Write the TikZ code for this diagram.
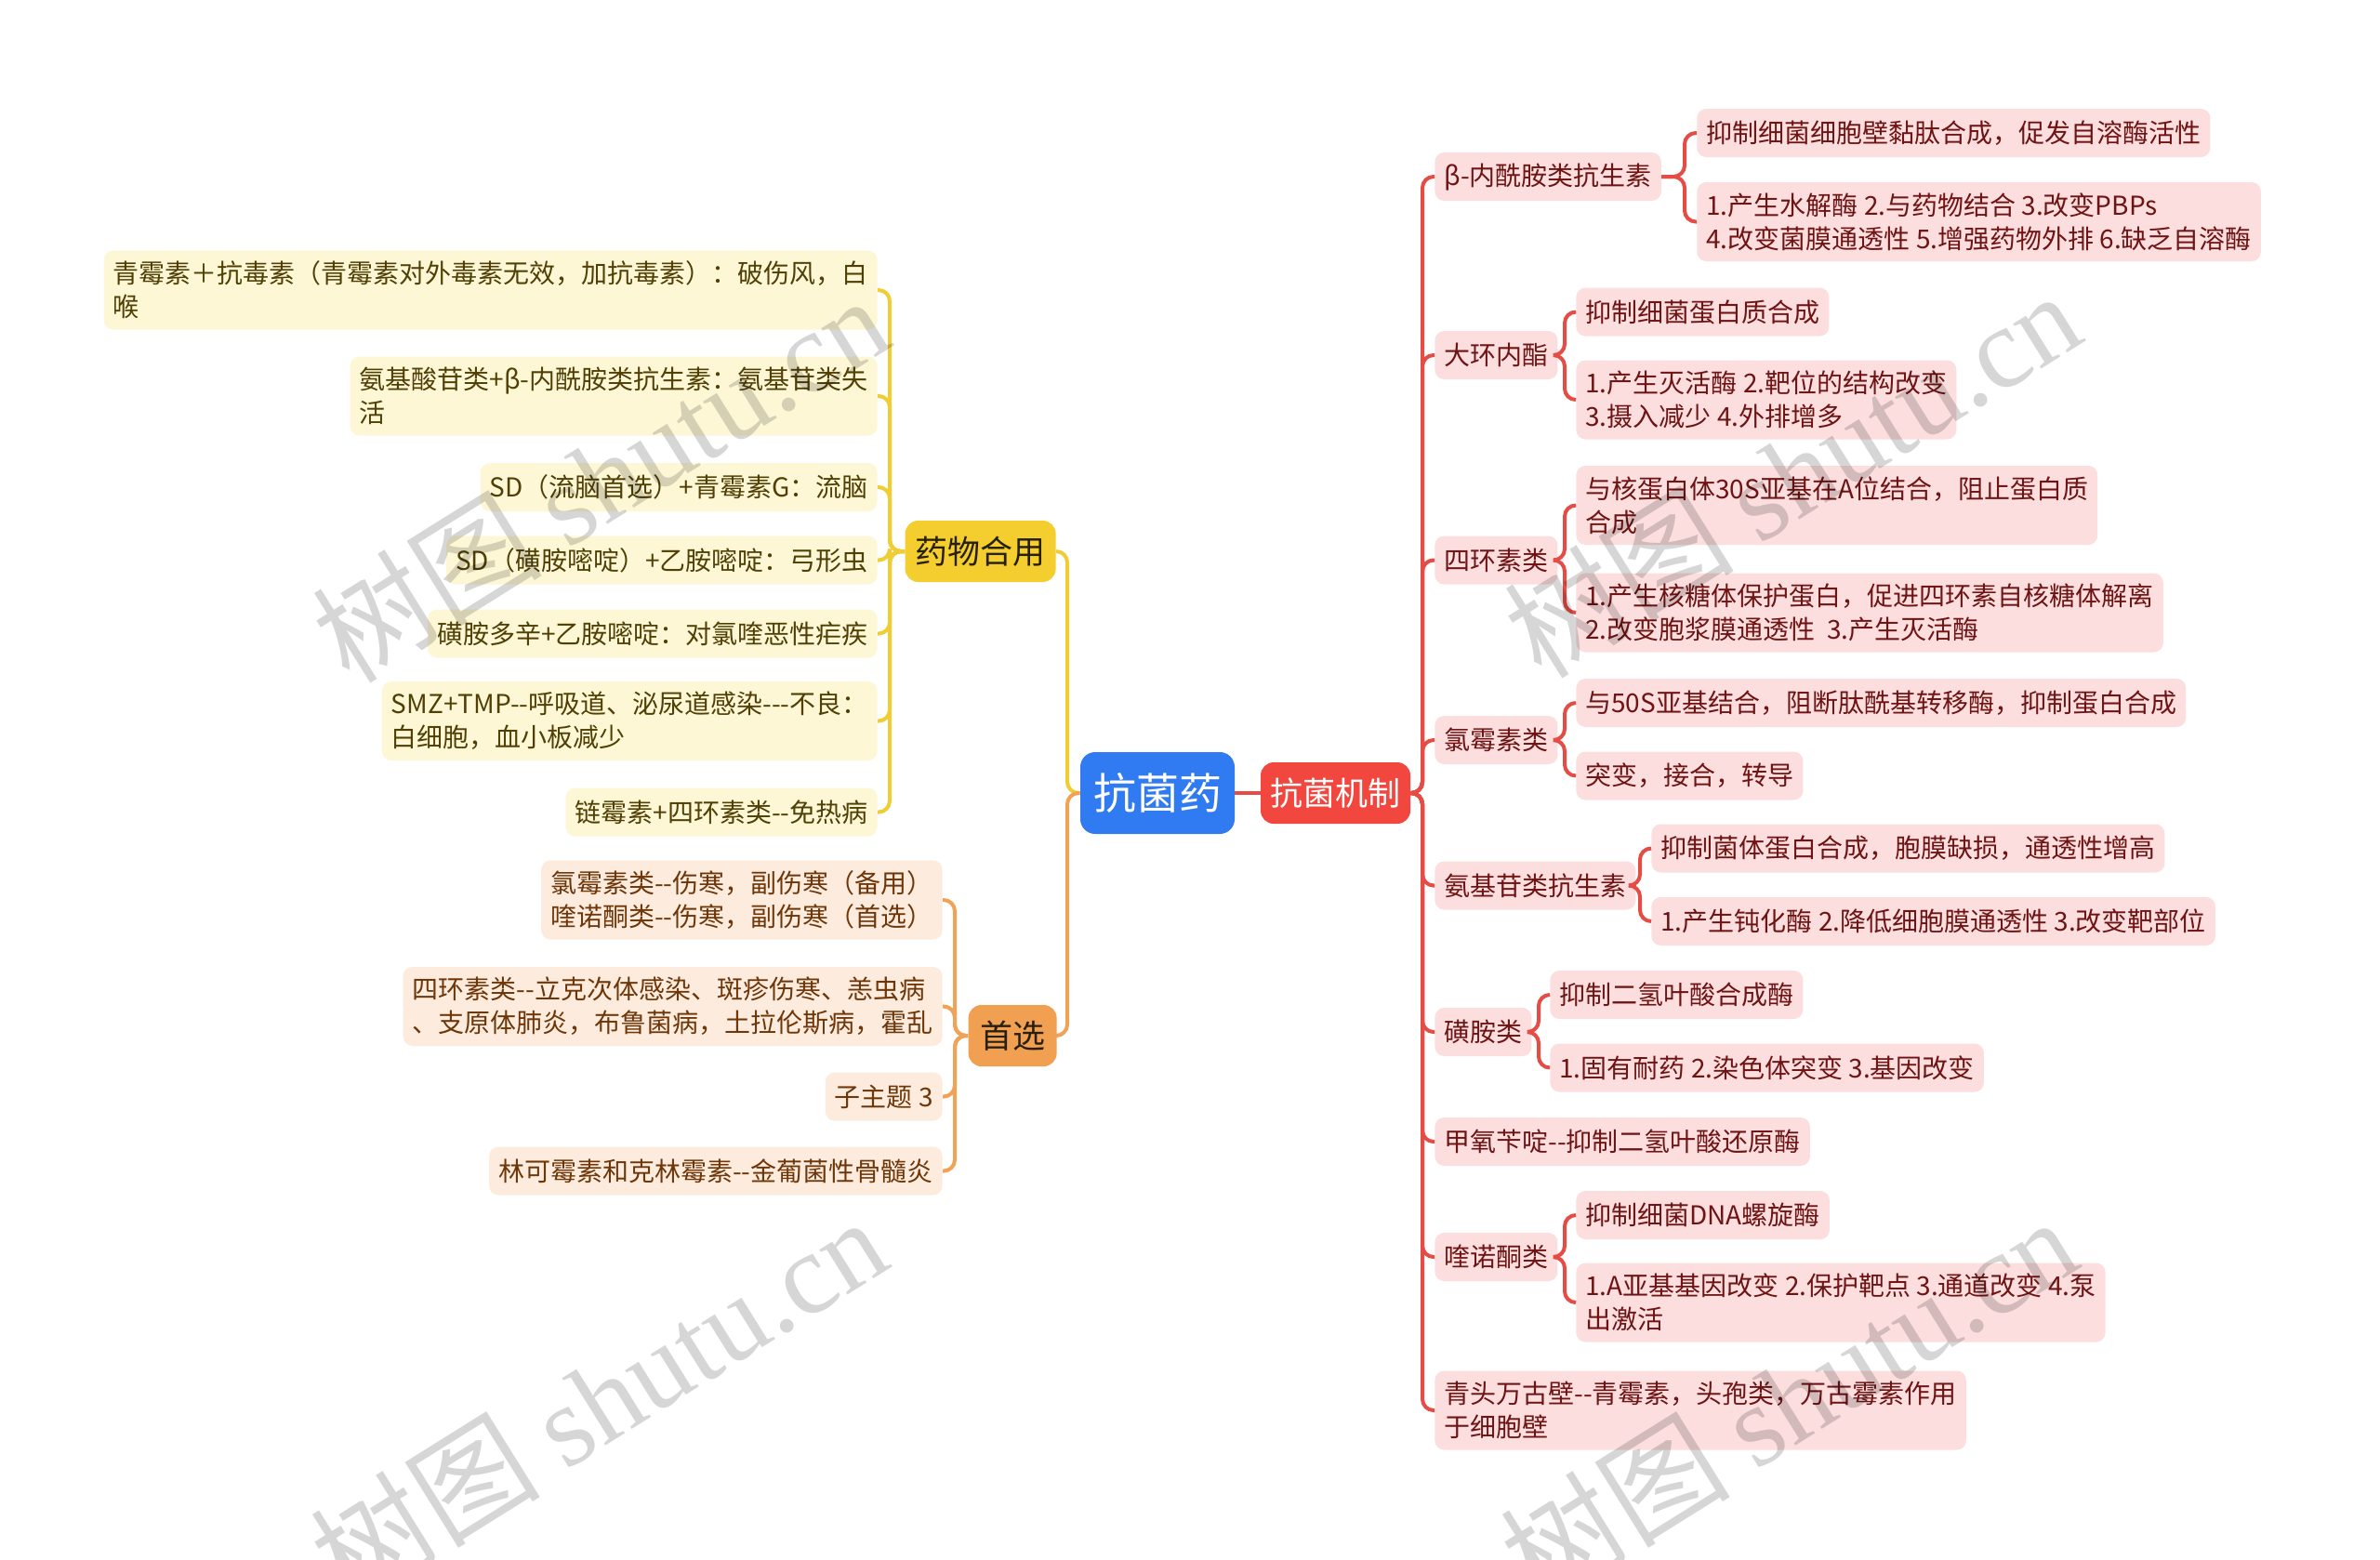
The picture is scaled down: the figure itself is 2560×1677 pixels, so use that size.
\documentclass[tikz,border=0pt]{standalone}
\usepackage{fontspec}
\setmainfont{Noto Sans CJK SC}
\newfontfamily\wmfont{Liberation Serif}
\newfontfamily\wmcjk{Noto Sans CJK SC}
\usetikzlibrary{calc}
\definecolor{rootblue}{RGB}{48,122,242}
\definecolor{mechred}{RGB}{242,71,63}
\definecolor{redline}{RGB}{230,76,70}
\definecolor{pinkfill}{RGB}{252,222,222}
\definecolor{redtext}{RGB}{110,20,20}
\definecolor{ynodefill}{RGB}{244,206,46}
\definecolor{yline}{RGB}{240,205,50}
\definecolor{yfill}{RGB}{254,247,214}
\definecolor{ytext}{RGB}{80,64,5}
\definecolor{onodefill}{RGB}{241,160,82}
\definecolor{oline}{RGB}{240,162,86}
\definecolor{ofill}{RGB}{253,236,222}
\definecolor{otext}{RGB}{110,55,10}
\definecolor{darktext}{RGB}{40,32,15}
\tikzset{
  leafbase/.style={rounded corners=5pt, inner xsep=5pt, inner ysep=2pt,
    font=\fontsize{14}{18}\selectfont, align=left, minimum height=26pt},
  twoline/.style={minimum height=42.5pt},
  rleaf/.style={leafbase, fill=pinkfill, text=redtext, anchor=west},
  yleaf/.style={leafbase, fill=yfill, text=ytext, anchor=east},
  oleaf/.style={leafbase, fill=ofill, text=otext, anchor=east},
  rootnode/.style={rounded corners=8pt, fill=rootblue, text=white,
    font=\fontsize{23}{28}\selectfont, minimum width=83pt, minimum height=44pt, inner sep=0pt},
  mainnode/.style={rounded corners=7pt, font=\fontsize{17.5}{22}\selectfont,
    minimum height=33pt, inner xsep=5pt, inner ysep=0pt},
  rcon/.style={draw=redline, line width=2pt, rounded corners=6pt},
  ycon/.style={draw=yline, line width=2pt, rounded corners=6pt},
  ocon/.style={draw=oline, line width=2pt, rounded corners=6pt},
  wmark/.style={rotate=32, text=black, opacity=0.16, font=\fontsize{62}{70}\selectfont}
}
\begin{document}
\begin{tikzpicture}[x=0.5pt,y=-0.5pt]
\useasboundingbox[fill=white] (0,0) rectangle (2560,1677);

% central nodes
\node[rootnode] (root) at (1245,853) {抗菌药};
\node[mainnode, fill=mechred, text=white, minimum width=80.5pt] (mech) at (1436.5,853) {抗菌机制};
\node[mainnode, fill=ynodefill, text=darktext, anchor=east, minimum width=81pt] (yaowu) at (1136,593) {药物合用};
\node[mainnode, fill=onodefill, text=darktext, anchor=east, minimum width=47.5pt] (shouxuan) at (1137,1114) {首选};

% left yellow leaves
\node[yleaf, twoline] (y1) at (944,312) {青霉素＋抗毒素（青霉素对外毒素无效，加抗毒素）：破伤风，白\\喉};
\node[yleaf, twoline] (y2) at (944,426) {氨基酸苷类+β-内酰胺类抗生素：氨基苷类失\\活};
\node[yleaf] (y3) at (944,524) {SD（流脑首选）+青霉素G：流脑};
\node[yleaf] (y4) at (944,602.5) {SD（磺胺嘧啶）+乙胺嘧啶：弓形虫};
\node[yleaf] (y5) at (944,681.5) {磺胺多辛+乙胺嘧啶：对氯喹恶性疟疾};
\node[yleaf, twoline] (y6) at (944,775.5) {SMZ+TMP-{}-呼吸道、泌尿道感染-{}-{}-不良：\\白细胞，血小板减少};
\node[yleaf] (y7) at (944,873.5) {链霉素+四环素类-{}-免热病};

% left orange leaves
\node[oleaf, twoline] (o1) at (1014,968) {氯霉素类-{}-伤寒，副伤寒（备用）\\喹诺酮类-{}-伤寒，副伤寒（首选）};
\node[oleaf, twoline] (o2) at (1014,1082.5) {四环素类-{}-立克次体感染、斑疹伤寒、恙虫病\\、支原体肺炎，布鲁菌病，土拉伦斯病，霍乱};
\node[oleaf] (o3) at (1014,1179.5) {子主题 3};
\node[oleaf] (o4) at (1014,1259.5) {林可霉素和克林霉素-{}-金葡菌性骨髓炎};

% right level-2 nodes
\node[rleaf] (r1) at (1543,190) {β-内酰胺类抗生素};
\node[rleaf] (r2) at (1543,382) {大环内酯};
\node[rleaf] (r3) at (1543,602.5) {四环素类};
\node[rleaf] (r4) at (1543,796) {氯霉素类};
\node[rleaf] (r5) at (1543,952.5) {氨基苷类抗生素};
\node[rleaf] (r6) at (1543,1110) {磺胺类};
\node[rleaf] (r7) at (1543,1228) {甲氧苄啶-{}-抑制二氢叶酸还原酶};
\node[rleaf] (r8) at (1543,1352) {喹诺酮类};
\node[rleaf, twoline] (r9) at (1543,1517) {青头万古壁-{}-青霉素，头孢类，万古霉素作用\\于细胞壁};

% right leaves
\node[rleaf] (r1a) at (1825,143) {抑制细菌细胞壁黏肽合成，促发自溶酶活性};
\node[rleaf, twoline] (r1b) at (1825,238.5) {1.产生水解酶 2.与药物结合 3.改变PBPs\\4.改变菌膜通透性 5.增强药物外排 6.缺乏自溶酶};
\node[rleaf] (r2a) at (1695,335.5) {抑制细菌蛋白质合成};
\node[rleaf, twoline] (r2b) at (1695,430) {1.产生灭活酶 2.靶位的结构改变\\3.摄入减少 4.外排增多};
\node[rleaf, twoline] (r3a) at (1695,543.5) {与核蛋白体30S亚基在A位结合，阻止蛋白质\\合成};
\node[rleaf, twoline] (r3b) at (1695,659) {1.产生核糖体保护蛋白，促进四环素自核糖体解离\\2.改变胞浆膜通透性\ \ 3.产生灭活酶};
\node[rleaf] (r4a) at (1695,756) {与50S亚基结合，阻断肽酰基转移酶，抑制蛋白合成};
\node[rleaf] (r4b) at (1695,834.5) {突变，接合，转导};
\node[rleaf] (r5a) at (1776,912.5) {抑制菌体蛋白合成，胞膜缺损，通透性增高};
\node[rleaf] (r5b) at (1776,991) {1.产生钝化酶 2.降低细胞膜通透性 3.改变靶部位};
\node[rleaf] (r6a) at (1667,1070) {抑制二氢叶酸合成酶};
\node[rleaf] (r6b) at (1667,1148.5) {1.固有耐药 2.染色体突变 3.基因改变};
\node[rleaf] (r8a) at (1695,1307) {抑制细菌DNA螺旋酶};
\node[rleaf, twoline] (r8b) at (1695,1401) {1.A亚基基因改变 2.保护靶点 3.通道改变 4.泵\\出激活};

% bracket coordinates
\coordinate (bRoot) at (1148,853);
\coordinate (bY) at (957,593);
\coordinate (bO) at (1027,1114);
\coordinate (bR) at (1530,853);
\coordinate (b1) at (1812,190);
\coordinate (b2) at (1683,382);
\coordinate (b3) at (1683,602);
\coordinate (b4) at (1683,796);
\coordinate (b5) at (1764,952);
\coordinate (b6) at (1655,1110);
\coordinate (b8) at (1683,1352);

% connectors
\draw[rcon] (root.east) -- (mech.west);
\draw[ycon] (root.west) -| (bRoot |- yaowu.east) -- (yaowu.east);
\draw[ocon] (root.west) -| (bRoot |- shouxuan.east) -- (shouxuan.east);
\foreach \c in {y1,y2,y3,y4,y5,y6,y7}{
  \draw[ycon] (yaowu.west) -| (bY |- \c.east) -- (\c.east);
}
\foreach \c in {o1,o2,o3,o4}{
  \draw[ocon] (shouxuan.west) -| (bO |- \c.east) -- (\c.east);
}
\foreach \c in {r1,r2,r3,r4,r5,r6,r7,r8,r9}{
  \draw[rcon] (mech.east) -| (bR |- \c.west) -- (\c.west);
}
\foreach \p/\b in {r1/b1,r2/b2,r3/b3,r4/b4,r5/b5,r6/b6,r8/b8}{
  \draw[rcon] (\p.east) -| (\b |- \p a.west) -- (\p a.west);
  \draw[rcon] (\p.east) -| (\b |- \p b.west) -- (\p b.west);
}

% watermarks
\node[wmark] (wm1) at (645,514) {\wmcjk 树图 \wmfont shutu.cn};
\node[wmark] (wm2) at (1927,509) {\wmcjk 树图 \wmfont shutu.cn};
\node[wmark] (wm3) at (643,1505) {\wmcjk 树图 \wmfont shutu.cn};
\node[wmark] (wm4) at (1923,1505) {\wmcjk 树图 \wmfont shutu.cn};
\end{tikzpicture}
\end{document}
